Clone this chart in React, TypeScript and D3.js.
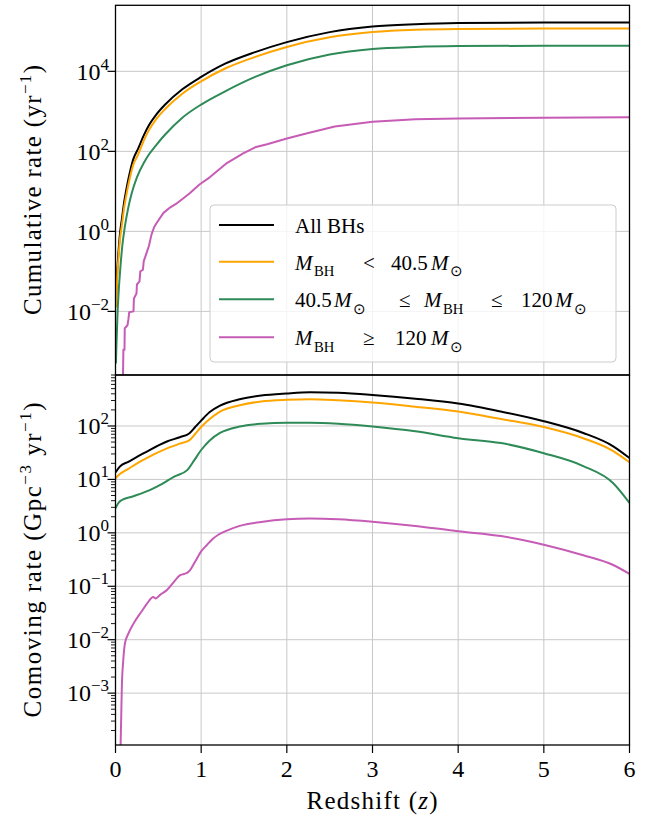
import React from 'react';
import * as d3 from 'd3';

// ---------------- DATA ----------------
const xTicks = [0, 1, 2, 3, 4, 5, 6];
const topYTicks = [1e-2, 1, 1e2, 1e4];
const topYTickExp = ['−2', '0', '2', '4'];
const botYTicks = [1e-3, 1e-2, 1e-1, 1, 10, 100];
const botYTickExp = ['−3', '−2', '−1', '0', '1', '2'];

// Cumulative rate (yr^-1)
const cumAllZ = [0.005, 0.02, 0.035, 0.055, 0.074, 0.1, 0.133, 0.17, 0.21, 0.26, 0.33, 0.39, 0.48, 0.58, 0.78, 1.0, 1.28, 1.63, 2.0, 2.5, 3.0, 3.5, 4.0, 5.0, 6.0];
const cumAll = [0.0178, 0.1, 0.316, 1.0, 2.0, 5.2, 13.2, 31.6, 66, 112, 251, 447, 851, 1480, 3550, 7244, 15500, 30200, 53700, 95500, 131800, 151000, 162000, 166000, 166000];
const cumLowZ = [0.005, 0.02, 0.035, 0.055, 0.074, 0.1, 0.133, 0.17, 0.21, 0.26, 0.33, 0.39, 0.48, 0.58, 0.78, 1.0, 1.28, 1.63, 2.0, 2.5, 3.0, 3.5, 4.0, 5.0, 6.0];
const cumLow = [0.0126, 0.0708, 0.224, 0.708, 1.41, 3.8, 9.55, 22.9, 47.9, 79.4, 186, 339, 661, 1148, 2754, 5623, 11750, 22900, 40700, 70800, 95500, 109600, 114800, 117500, 117500];
const cumMidZ = [0.005, 0.01, 0.024, 0.04, 0.055, 0.08, 0.11, 0.15, 0.19, 0.25, 0.33, 0.39, 0.48, 0.58, 0.78, 1.0, 1.28, 1.63, 2.0, 2.5, 3.0, 3.5, 4.0, 5.0, 6.0];
const cumMid = [5.0e-4, 1.26e-3, 9.1e-3, 0.0398, 0.11, 0.447, 1.35, 3.98, 9.12, 22.4, 51.3, 83.2, 148, 263, 692, 1479, 3162, 7244, 14125, 26300, 36300, 40700, 42700, 43650, 43650];
const cumHighZ = [0.085, 0.092, 0.105, 0.108, 0.14, 0.15, 0.16, 0.21, 0.215, 0.245, 0.25, 0.28, 0.29, 0.32, 0.33, 0.35, 0.37, 0.39, 0.42, 0.45, 0.48, 0.56, 0.64, 0.72, 0.8, 0.87, 0.98, 1.1, 1.3, 1.49, 1.63, 1.77, 2.0, 2.25, 2.56, 3.0, 3.5, 4.0, 5.0, 6.0];
const cumHigh = [1e-4, 1.1e-3, 1.1e-3, 3.8e-3, 4.5e-3, 6.2e-3, 9.5e-3, 1.0e-2, 2.1e-2, 2.8e-2, 4.7e-2, 5.6e-2, 0.1, 0.11, 0.18, 0.24, 0.32, 0.43, 0.83, 1.26, 1.62, 2.9, 4.0, 5.1, 6.9, 9.1, 14.8, 22.4, 51, 89, 126, 151, 209, 288, 417, 550, 631, 661, 692, 708];

// Comoving rate (Gpc^-3 yr^-1)
const comAllZ = [0, 0.05, 0.15, 0.33, 0.6, 0.75, 0.86, 0.93, 1.0, 1.1, 1.22, 1.45, 1.7, 2.0, 2.27, 2.6, 3.0, 3.5, 4.0, 4.5, 5.0, 5.46, 5.81, 6.0];
const comAll = [13.5, 17.4, 21.4, 30.9, 51.3, 61.7, 72.4, 95.5, 126, 182, 240, 316, 372, 407, 427, 417, 380, 324, 263, 186, 123, 74.1, 41.7, 25.1];
const comLowZ = [0, 0.05, 0.15, 0.33, 0.6, 0.75, 0.86, 0.93, 1.0, 1.1, 1.22, 1.45, 1.7, 2.0, 2.27, 2.6, 3.0, 3.5, 4.0, 4.5, 5.0, 5.46, 5.81, 6.0];
const comLow = [10.5, 12.6, 15.8, 23.4, 38, 46.8, 53.7, 70.8, 95.5, 135, 186, 245, 288, 309, 316, 302, 275, 229, 186, 135, 95.5, 58.9, 33.9, 20.9];
const comMidZ = [0, 0.03, 0.07, 0.2, 0.4, 0.55, 0.68, 0.84, 0.92, 1.0, 1.1, 1.22, 1.45, 1.7, 2.0, 2.27, 2.6, 3.0, 3.5, 4.0, 4.5, 5.0, 5.46, 5.81, 6.0];
const comMid = [2.88, 3.55, 4.07, 4.79, 6.31, 8.32, 11.2, 15.1, 22.9, 35.5, 53.7, 74.1, 97.7, 110, 115, 115, 110, 97.7, 79.4, 58.9, 47.9, 30.9, 17.8, 8.5, 3.63];
const comHighZ = [0.058, 0.066, 0.074, 0.09, 0.11, 0.15, 0.21, 0.3, 0.37, 0.44, 0.47, 0.52, 0.6, 0.68, 0.75, 0.8, 0.84, 0.87, 0.93, 1.0, 1.07, 1.14, 1.2, 1.3, 1.45, 1.7, 2.0, 2.27, 2.6, 3.0, 3.5, 4.0, 4.5, 5.0, 5.46, 5.81, 6.0];
const comHigh = [8e-5, 3.2e-4, 1.3e-3, 4.0e-3, 8.5e-3, 1.3e-2, 2.0e-2, 3.3e-2, 4.8e-2, 6.3e-2, 5.9e-2, 6.9e-2, 8.5e-2, 0.12, 0.16, 0.17, 0.18, 0.2, 0.29, 0.45, 0.6, 0.78, 0.92, 1.1, 1.35, 1.6, 1.8, 1.86, 1.8, 1.62, 1.35, 1.07, 0.87, 0.6, 0.38, 0.25, 0.17];

const colors = ['#000000', '#ffa500', '#2e8b57', '#c65cb5'];

// ---------------- LAYOUT ----------------
const W = 649, H = 818;
const L = 115.5, R = 629.5;
const T1 = 5.3, B1 = 375, B2 = 745;
const FONT = 'Liberation Serif';

// legend segments: text, horizontal offset from text start, italic, subscript
type Seg = { t: string; dx: number; it?: boolean; sub?: boolean };

const legendRows: Seg[][] = [
  [{ t: 'All BHs', dx: 0 }],
  [{ t: 'M', dx: 0, it: true }, { t: 'BH', dx: 19, sub: true }, { t: '<', dx: 68 }, { t: '40.5', dx: 96 }, { t: 'M', dx: 136, it: true }, { t: '⊙', dx: 155, sub: true }],
  [{ t: '40.5', dx: 0 }, { t: 'M', dx: 39, it: true }, { t: '⊙', dx: 58, sub: true }, { t: '≤', dx: 104 }, { t: 'M', dx: 129, it: true }, { t: 'BH', dx: 148, sub: true }, { t: '≤', dx: 196 }, { t: '120', dx: 226 }, { t: 'M', dx: 260, it: true }, { t: '⊙', dx: 279, sub: true }],
  [{ t: 'M', dx: 0, it: true }, { t: 'BH', dx: 19, sub: true }, { t: '≥', dx: 68 }, { t: '120', dx: 100 }, { t: 'M', dx: 136, it: true }, { t: '⊙', dx: 155, sub: true }],
];

function MathText({ x, y, segs, size }: { x: number; y: number; segs: Seg[]; size: number }) {
  return (
    <g>
      {segs.map((s, i) => (
        <text
          key={i}
          x={x + s.dx}
          y={y + (s.sub ? size * 0.3 : 0)}
          fontFamily={FONT}
          fontStyle={s.it ? 'italic' : 'normal'}
          fontSize={s.sub ? size * 0.7 : size}
        >
          {s.t}
        </text>
      ))}
    </g>
  );
}

export default function App() {
  const x = d3.scaleLinear().domain([0, 6]).range([L, R]);
  const yT = d3.scaleLog().domain([2.57e-4, 4.47e5]).range([B1, T1]);
  const yB = d3.scaleLog().domain([1.07e-4, 900]).range([B2, B1]);

  const mk = (ys: any, curve: any) =>
    d3.line<[number, number]>().x(d => x(d[0])).y(d => ys(d[1])).curve(curve);

  const zip = (a: number[], b: number[]) => a.map((v, i) => [v, b[i]] as [number, number]);

  const topSeries = [
    { d: zip(cumAllZ, cumAll), c: colors[0], curve: d3.curveMonotoneX },
    { d: zip(cumLowZ, cumLow), c: colors[1], curve: d3.curveMonotoneX },
    { d: zip(cumMidZ, cumMid), c: colors[2], curve: d3.curveMonotoneX },
    { d: zip(cumHighZ, cumHigh), c: colors[3], curve: d3.curveLinear },
  ];
  const botSeries = [
    { d: zip(comAllZ, comAll), c: colors[0] },
    { d: zip(comLowZ, comLow), c: colors[1] },
    { d: zip(comMidZ, comMid), c: colors[2] },
    { d: zip(comHighZ, comHigh), c: colors[3] },
  ];

  const minor: number[] = [];
  for (let e = -4; e <= 2; e++) {
    for (let k = 2; k <= 9; k++) {
      const v = k * Math.pow(10, e);
      const [lo, hi] = yB.domain();
      if (v >= lo && v <= hi) minor.push(v);
    }
  }

  const gridColor = '#c8c8c8';
  const legX = 210, legY = 205, legW = 406, legH = 157;
  const rowY = [225, 261.7, 299.3, 337.3];

  return (
    <svg width={W} height={H} style={{ position: 'absolute', left: 0, top: 0, background: '#fff' }}>
      <defs>
        <clipPath id="clipTop"><rect x={L} y={T1} width={R - L} height={B1 - T1} /></clipPath>
        <clipPath id="clipBot"><rect x={L} y={B1} width={R - L} height={B2 - B1} /></clipPath>
      </defs>
      <rect x={0} y={0} width={W} height={H} fill="#fff" />

      {/* grids */}
      {xTicks.slice(1, -1).map(t => (
        <g key={'gx' + t}>
          <line x1={x(t)} x2={x(t)} y1={T1} y2={B1} stroke={gridColor} strokeWidth={1} />
          <line x1={x(t)} x2={x(t)} y1={B1} y2={B2} stroke={gridColor} strokeWidth={1} />
        </g>
      ))}
      {topYTicks.map(t => (
        <line key={'gty' + t} x1={L} x2={R} y1={yT(t)} y2={yT(t)} stroke={gridColor} strokeWidth={1} />
      ))}
      {botYTicks.map(t => (
        <line key={'gby' + t} x1={L} x2={R} y1={yB(t)} y2={yB(t)} stroke={gridColor} strokeWidth={1} />
      ))}

      {/* lines */}
      <g clipPath="url(#clipTop)">
        {topSeries.map((s, i) => (
          <path key={'t' + i} d={mk(yT, s.curve)(s.d) || ''} fill="none" stroke={s.c} strokeWidth={2} strokeLinejoin="round" />
        ))}
      </g>
      <g clipPath="url(#clipBot)">
        {botSeries.map((s, i) => (
          <path key={'b' + i} d={mk(yB, d3.curveMonotoneX)(s.d) || ''} fill="none" stroke={s.c} strokeWidth={2} strokeLinejoin="round" />
        ))}
      </g>

      {/* legend */}
      <rect x={legX} y={legY} width={legW} height={legH} rx={4} fill="#fff" fillOpacity={0.8} stroke="#cccccc" strokeWidth={1} />
      {legendRows.map((segs, i) => (
        <g key={'lg' + i}>
          <line x1={219} x2={274} y1={rowY[i]} y2={rowY[i]} stroke={colors[i]} strokeWidth={2} />
          <MathText x={295} y={rowY[i] + 8} segs={segs} size={21} />
        </g>
      ))}

      {/* spines */}
      <rect x={L} y={T1} width={R - L} height={B1 - T1} fill="none" stroke="#000" strokeWidth={1.3} />
      <rect x={L} y={B1} width={R - L} height={B2 - B1} fill="none" stroke="#000" strokeWidth={1.3} />

      {/* top y ticks */}
      {topYTicks.map((t, i) => (
        <g key={'tyt' + t}>
          <line x1={L - 8} x2={L} y1={yT(t)} y2={yT(t)} stroke="#000" strokeWidth={1.2} />
          <text x={109} y={yT(t) + 8.5} textAnchor="end" fontFamily={FONT} fontSize={24}>
            10<tspan dy={-10} fontSize={17}>{topYTickExp[i]}</tspan>
          </text>
        </g>
      ))}
      {/* bottom y ticks */}
      {minor.map(v => (
        <line key={'mn' + v} x1={L - 4.5} x2={L} y1={yB(v)} y2={yB(v)} stroke="#000" strokeWidth={0.9} />
      ))}
      {botYTicks.map((t, i) => (
        <g key={'byt' + t}>
          <line x1={L - 8} x2={L} y1={yB(t)} y2={yB(t)} stroke="#000" strokeWidth={1.2} />
          <text x={109} y={yB(t) + 8} textAnchor="end" fontFamily={FONT} fontSize={24}>
            10<tspan dy={-10} fontSize={17}>{botYTickExp[i]}</tspan>
          </text>
        </g>
      ))}
      {/* x ticks */}
      {xTicks.map(t => (
        <g key={'xt' + t}>
          <line x1={x(t)} x2={x(t)} y1={B2} y2={B2 + 8} stroke="#000" strokeWidth={1.2} />
          <text x={x(t)} y={777} textAnchor="middle" fontFamily={FONT} fontSize={24}>{t}</text>
        </g>
      ))}

      {/* axis labels */}
      <text x={372} y={809} textAnchor="middle" fontFamily={FONT} fontSize={25} textLength={131} lengthAdjust="spacing" style={{ whiteSpace: 'pre' }}>
        Redshift (<tspan fontStyle="italic">z</tspan>)
      </text>
      <text transform="translate(41,190) rotate(-90)" textAnchor="middle" fontFamily={FONT} fontSize={25} textLength={250} lengthAdjust="spacing" style={{ whiteSpace: 'pre' }}>
        Cumulative rate (yr<tspan dy={-10} fontSize={17}>−1</tspan><tspan dy={10}>)</tspan>
      </text>
      <text transform="translate(41,560) rotate(-90)" textAnchor="middle" fontFamily={FONT} fontSize={25} textLength={315} lengthAdjust="spacing" style={{ whiteSpace: 'pre' }}>
        Comoving rate (Gpc<tspan dy={-10} fontSize={17}>−3</tspan><tspan dy={10}> yr</tspan><tspan dy={-10} fontSize={17}>−1</tspan><tspan dy={10}>)</tspan>
      </text>
    </svg>
  );
}
